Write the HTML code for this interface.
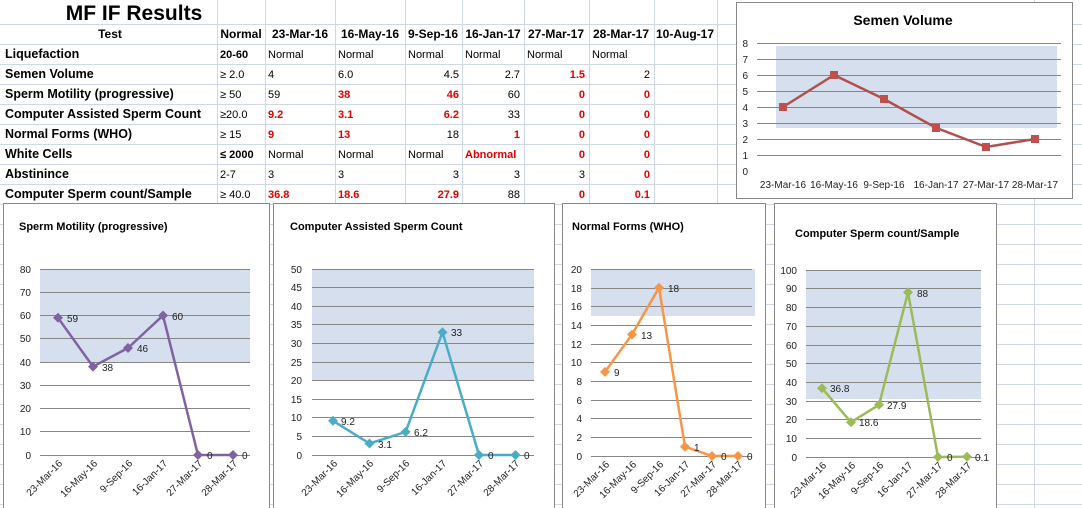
<!DOCTYPE html>
<html><head><meta charset="utf-8"><style>
html,body{margin:0;padding:0;background:#fff;}
svg{display:block;font-family:"Liberation Sans",sans-serif;}
.b{font-weight:bold;}
.r{fill:#e00000;font-weight:bold;}
.t{font-size:12px;}
.ax{font-size:10px;fill:#222;}
.g{stroke:#868686;stroke-width:1;}
</style></head><body>
<svg width="1082" height="508" viewBox="0 0 1082 508" xmlns="http://www.w3.org/2000/svg">
<!-- background grid -->
<g stroke="#d0d7e5" stroke-width="1">
<line x1="0" y1="24.5" x2="1082" y2="24.5"/><line x1="0" y1="44.5" x2="1082" y2="44.5"/>
<line x1="0" y1="64.5" x2="1082" y2="64.5"/><line x1="0" y1="84.5" x2="1082" y2="84.5"/>
<line x1="0" y1="104.5" x2="1082" y2="104.5"/><line x1="0" y1="124.5" x2="1082" y2="124.5"/>
<line x1="0" y1="144.5" x2="1082" y2="144.5"/><line x1="0" y1="164.5" x2="1082" y2="164.5"/>
<line x1="0" y1="184.5" x2="1082" y2="184.5"/><line x1="0" y1="204.5" x2="1082" y2="204.5"/>
<line x1="0" y1="224.5" x2="1082" y2="224.5"/><line x1="0" y1="244.5" x2="1082" y2="244.5"/>
<line x1="0" y1="264.5" x2="1082" y2="264.5"/><line x1="0" y1="284.5" x2="1082" y2="284.5"/>
<line x1="0" y1="304.5" x2="1082" y2="304.5"/><line x1="0" y1="324.5" x2="1082" y2="324.5"/>
<line x1="0" y1="344.5" x2="1082" y2="344.5"/><line x1="0" y1="364.5" x2="1082" y2="364.5"/>
<line x1="0" y1="384.5" x2="1082" y2="384.5"/><line x1="0" y1="404.5" x2="1082" y2="404.5"/>
<line x1="0" y1="424.5" x2="1082" y2="424.5"/><line x1="0" y1="444.5" x2="1082" y2="444.5"/>
<line x1="0" y1="464.5" x2="1082" y2="464.5"/><line x1="0" y1="484.5" x2="1082" y2="484.5"/>
<line x1="0" y1="504.5" x2="1082" y2="504.5"/>
<line x1="217.5" y1="0" x2="217.5" y2="508"/><line x1="265.5" y1="0" x2="265.5" y2="508"/>
<line x1="335.5" y1="0" x2="335.5" y2="508"/><line x1="405.5" y1="0" x2="405.5" y2="508"/>
<line x1="462.5" y1="0" x2="462.5" y2="508"/><line x1="524.5" y1="0" x2="524.5" y2="508"/>
<line x1="589.5" y1="0" x2="589.5" y2="508"/><line x1="654.5" y1="0" x2="654.5" y2="508"/>
<line x1="717.5" y1="0" x2="717.5" y2="508"/><line x1="1034.5" y1="0" x2="1034.5" y2="508"/>
</g>

<!-- Table -->
<text x="134" y="20" text-anchor="middle" class="b" font-size="21">MF IF Results</text>
<g class="t">
<text x="110" y="38" text-anchor="middle" class="b">Test</text>
<text x="241" y="38" text-anchor="middle" class="b">Normal</text>
<text x="300" y="38" text-anchor="middle" class="b">23-Mar-16</text>
<text x="370" y="38" text-anchor="middle" class="b">16-May-16</text>
<text x="433" y="38" text-anchor="middle" class="b">9-Sep-16</text>
<text x="493" y="38" text-anchor="middle" class="b">16-Jan-17</text>
<text x="556" y="38" text-anchor="middle" class="b">27-Mar-17</text>
<text x="621" y="38" text-anchor="middle" class="b">28-Mar-17</text>
<text x="685" y="38" text-anchor="middle" class="b">10-Aug-17</text>

<g class="b" font-size="12.5">
<text x="5" y="58">Liquefaction</text>
<text x="5" y="78">Semen Volume</text>
<text x="5" y="98">Sperm Motility (progressive)</text>
<text x="5" y="118">Computer Assisted Sperm Count</text>
<text x="5" y="138">Normal Forms (WHO)</text>
<text x="5" y="158">White Cells</text>
<text x="5" y="178">Abstinince</text>
<text x="5" y="198">Computer Sperm count/Sample</text>
</g>
<g font-size="11">
<text x="220" y="58" class="b">20-60</text>
<text x="220" y="78">≥ 2.0</text>
<text x="220" y="98">≥ 50</text>
<text x="220" y="118">≥20.0</text>
<text x="220" y="138">≥ 15</text>
<text x="220" y="158" class="b">≤  2000</text>
<text x="220" y="178">2-7</text>
<text x="220" y="198">≥ 40.0</text>
</g>
<g font-size="11">
<text x="268" y="58">Normal</text><text x="338" y="58">Normal</text><text x="408" y="58">Normal</text><text x="465" y="58">Normal</text><text x="527" y="58">Normal</text><text x="592" y="58">Normal</text>
<text x="268" y="78">4</text><text x="338" y="78">6.0</text>
<text x="268" y="98">59</text><text x="338" y="98" class="r">38</text>
<text x="268" y="118" class="r">9.2</text><text x="338" y="118" class="r">3.1</text>
<text x="268" y="138" class="r">9</text><text x="338" y="138" class="r">13</text>
<text x="268" y="158">Normal</text><text x="338" y="158">Normal</text><text x="408" y="158">Normal</text><text x="465" y="158" class="r">Abnormal</text>
<text x="268" y="178">3</text><text x="338" y="178">3</text>
<text x="268" y="198" class="r">36.8</text><text x="338" y="198" class="r">18.6</text>
<g text-anchor="end">
<text x="459" y="78">4.5</text><text x="520" y="78">2.7</text><text x="585" y="78" class="r">1.5</text><text x="650" y="78">2</text>
<text x="459" y="98" class="r">46</text><text x="520" y="98">60</text><text x="585" y="98" class="r">0</text><text x="650" y="98" class="r">0</text>
<text x="459" y="118" class="r">6.2</text><text x="520" y="118">33</text><text x="585" y="118" class="r">0</text><text x="650" y="118" class="r">0</text>
<text x="459" y="138">18</text><text x="520" y="138" class="r">1</text><text x="585" y="138" class="r">0</text><text x="650" y="138" class="r">0</text>
<text x="585" y="158" class="r">0</text><text x="650" y="158" class="r">0</text>
<text x="459" y="178">3</text><text x="520" y="178">3</text><text x="585" y="178">3</text><text x="650" y="178" class="r">0</text>
<text x="459" y="198" class="r">27.9</text><text x="520" y="198">88</text><text x="585" y="198" class="r">0</text><text x="650" y="198" class="r">0.1</text>
</g>
</g>
</g>

<!-- Semen Volume chart -->
<rect x="736.5" y="2.5" width="336" height="196" fill="#fff" stroke="#888"/>
<text x="903" y="25" text-anchor="middle" class="b" font-size="14">Semen Volume</text>
<rect x="776" y="46" width="281" height="82" fill="#d5dfee"/>
<g class="g">
<line x1="757" y1="43.5" x2="1061" y2="43.5"/><line x1="757" y1="59.5" x2="1061" y2="59.5"/>
<line x1="757" y1="75.5" x2="1061" y2="75.5"/><line x1="757" y1="91.5" x2="1061" y2="91.5"/>
<line x1="757" y1="107.5" x2="1061" y2="107.5"/><line x1="757" y1="123.5" x2="1061" y2="123.5"/>
<line x1="757" y1="139.5" x2="1061" y2="139.5"/><line x1="757" y1="155.5" x2="1061" y2="155.5"/>
</g>
<g class="ax" text-anchor="end">
<text x="748" y="47">8</text><text x="748" y="63">7</text><text x="748" y="79">6</text><text x="748" y="95">5</text>
<text x="748" y="111">4</text><text x="748" y="127">3</text><text x="748" y="143">2</text><text x="748" y="159">1</text><text x="748" y="175">0</text>
</g>
<g class="ax" text-anchor="middle">
<text x="783" y="188">23-Mar-16</text><text x="834" y="188">16-May-16</text><text x="884" y="188">9-Sep-16</text>
<text x="936" y="188">16-Jan-17</text><text x="986" y="188">27-Mar-17</text><text x="1035" y="188">28-Mar-17</text>
</g>
<polyline points="783,107 834,75 884,99 936,127.8 986,147 1035,139" fill="none" stroke="#b0504d" stroke-width="2.5"/>
<g fill="#c0504d">
<rect x="779" y="103" width="8" height="8"/><rect x="830" y="71" width="8" height="8"/><rect x="880" y="95" width="8" height="8"/>
<rect x="932" y="124" width="8" height="8"/><rect x="982" y="143" width="8" height="8"/><rect x="1031" y="135" width="8" height="8"/>
</g>

<!-- Chart 1: Sperm Motility -->
<rect x="3.5" y="203.5" width="266" height="310" fill="#fff" stroke="#888"/>
<text x="19" y="230" class="b" font-size="11">Sperm Motility (progressive)</text>
<rect x="40" y="269" width="210" height="93" fill="#d5dfee"/>
<g class="g">
<line x1="40" y1="269.5" x2="250" y2="269.5"/><line x1="40" y1="292.5" x2="250" y2="292.5"/>
<line x1="40" y1="315.5" x2="250" y2="315.5"/><line x1="40" y1="338.5" x2="250" y2="338.5"/>
<line x1="40" y1="362.5" x2="250" y2="362.5"/><line x1="40" y1="385.5" x2="250" y2="385.5"/>
<line x1="40" y1="408.5" x2="250" y2="408.5"/><line x1="40" y1="431.5" x2="250" y2="431.5"/>
<line x1="40" y1="455.5" x2="250" y2="455.5"/>
</g>
<g class="ax" text-anchor="end">
<text x="31" y="273">80</text><text x="31" y="296">70</text><text x="31" y="319">60</text><text x="31" y="342">50</text>
<text x="31" y="366">40</text><text x="31" y="389">30</text><text x="31" y="412">20</text><text x="31" y="435">10</text><text x="31" y="459">0</text>
</g>
<g class="ax" text-anchor="end">
<text transform="translate(63,464) rotate(-45)">23-Mar-16</text><text transform="translate(98,464) rotate(-45)">16-May-16</text>
<text transform="translate(133,464) rotate(-45)">9-Sep-16</text><text transform="translate(168,464) rotate(-45)">16-Jan-17</text>
<text transform="translate(203,464) rotate(-45)">27-Mar-17</text><text transform="translate(238,464) rotate(-45)">28-Mar-17</text>
</g>
<polyline points="58,317.8 93,366.6 128,348 163,315.5 198,455 233,455" fill="none" stroke="#7f63a1" stroke-width="2.5"/>
<g fill="#8064a2">
<path d="M58 312.8l5 5-5 5-5-5z"/><path d="M93 361.6l5 5-5 5-5-5z"/><path d="M128 343l5 5-5 5-5-5z"/>
<path d="M163 310.5l5 5-5 5-5-5z"/><path d="M198 450l5 5-5 5-5-5z"/><path d="M233 450l5 5-5 5-5-5z"/>
</g>
<g class="ax"><text x="67" y="322">59</text><text x="102" y="371">38</text><text x="137" y="352">46</text><text x="172" y="320">60</text><text x="207" y="459">0</text><text x="242" y="459">0</text></g>

<!-- Chart 2: CASC -->
<rect x="273.5" y="203.5" width="281" height="310" fill="#fff" stroke="#888"/>
<text x="290" y="230" class="b" font-size="11">Computer Assisted Sperm Count</text>
<rect x="312" y="269" width="222" height="111.6" fill="#d5dfee"/>
<g class="g">
<line x1="312" y1="269.5" x2="534" y2="269.5"/><line x1="312" y1="287.5" x2="534" y2="287.5"/>
<line x1="312" y1="306.5" x2="534" y2="306.5"/><line x1="312" y1="324.5" x2="534" y2="324.5"/>
<line x1="312" y1="343.5" x2="534" y2="343.5"/><line x1="312" y1="362.5" x2="534" y2="362.5"/>
<line x1="312" y1="380.5" x2="534" y2="380.5"/><line x1="312" y1="399.5" x2="534" y2="399.5"/>
<line x1="312" y1="417.5" x2="534" y2="417.5"/><line x1="312" y1="436.5" x2="534" y2="436.5"/>
<line x1="312" y1="455.5" x2="534" y2="455.5"/>
</g>
<g class="ax" text-anchor="end">
<text x="302" y="273">50</text><text x="302" y="291">45</text><text x="302" y="310">40</text><text x="302" y="328">35</text>
<text x="302" y="347">30</text><text x="302" y="366">25</text><text x="302" y="384">20</text><text x="302" y="403">15</text>
<text x="302" y="421">10</text><text x="302" y="440">5</text><text x="302" y="459">0</text>
</g>
<g class="ax" text-anchor="end">
<text transform="translate(338,464) rotate(-45)">23-Mar-16</text><text transform="translate(374,464) rotate(-45)">16-May-16</text>
<text transform="translate(410,464) rotate(-45)">9-Sep-16</text><text transform="translate(447,464) rotate(-45)">16-Jan-17</text>
<text transform="translate(484,464) rotate(-45)">27-Mar-17</text><text transform="translate(520,464) rotate(-45)">28-Mar-17</text>
</g>
<polyline points="333,420.8 369.5,443.5 405.6,431.9 442.5,332.2 479,455 515.5,455" fill="none" stroke="#4bacc6" stroke-width="2.5"/>
<g fill="#4bacc6">
<path d="M333 415.8l5 5-5 5-5-5z"/><path d="M369.5 438.5l5 5-5 5-5-5z"/><path d="M405.6 426.9l5 5-5 5-5-5z"/>
<path d="M442.5 327.2l5 5-5 5-5-5z"/><path d="M479 450l5 5-5 5-5-5z"/><path d="M515.5 450l5 5-5 5-5-5z"/>
</g>
<g class="ax"><text x="341" y="425">9.2</text><text x="378" y="448">3.1</text><text x="414" y="436">6.2</text><text x="451" y="336">33</text><text x="488" y="459">0</text><text x="524" y="459">0</text></g>

<!-- Chart 3: Normal Forms -->
<rect x="562.5" y="203.5" width="203" height="310" fill="#fff" stroke="#888"/>
<text x="572" y="230" class="b" font-size="11">Normal Forms (WHO)</text>
<rect x="591" y="269" width="164" height="47" fill="#d5dfee"/>
<g class="g">
<line x1="591" y1="269.5" x2="752" y2="269.5"/><line x1="591" y1="288.5" x2="752" y2="288.5"/>
<line x1="591" y1="306.5" x2="752" y2="306.5"/><line x1="591" y1="325.5" x2="752" y2="325.5"/>
<line x1="591" y1="344.5" x2="752" y2="344.5"/><line x1="591" y1="362.5" x2="752" y2="362.5"/>
<line x1="591" y1="381.5" x2="752" y2="381.5"/><line x1="591" y1="400.5" x2="752" y2="400.5"/>
<line x1="591" y1="418.5" x2="752" y2="418.5"/><line x1="591" y1="437.5" x2="752" y2="437.5"/>
<line x1="591" y1="456.5" x2="752" y2="456.5"/>
</g>
<g class="ax" text-anchor="end">
<text x="582" y="273">20</text><text x="582" y="292">18</text><text x="582" y="310">16</text><text x="582" y="329">14</text>
<text x="582" y="348">12</text><text x="582" y="366">10</text><text x="582" y="385">8</text><text x="582" y="404">6</text>
<text x="582" y="422">4</text><text x="582" y="441">2</text><text x="582" y="460">0</text>
</g>
<g class="ax" text-anchor="end">
<text transform="translate(610,465) rotate(-45)">23-Mar-16</text><text transform="translate(637,465) rotate(-45)">16-May-16</text>
<text transform="translate(664,465) rotate(-45)">9-Sep-16</text><text transform="translate(690,465) rotate(-45)">16-Jan-17</text>
<text transform="translate(717,465) rotate(-45)">27-Mar-17</text><text transform="translate(743,465) rotate(-45)">28-Mar-17</text>
</g>
<polyline points="605,371.9 632,334.5 659,287.7 685,446.7 712,456 738,456" fill="none" stroke="#f79646" stroke-width="2.5"/>
<g fill="#f79646">
<path d="M605 366.9l5 5-5 5-5-5z"/><path d="M632 329.5l5 5-5 5-5-5z"/><path d="M659 282.7l5 5-5 5-5-5z"/>
<path d="M685 441.7l5 5-5 5-5-5z"/><path d="M712 451l5 5-5 5-5-5z"/><path d="M738 451l5 5-5 5-5-5z"/>
</g>
<g class="ax"><text x="614" y="376">9</text><text x="641" y="339">13</text><text x="668" y="292">18</text><text x="694" y="451">1</text><text x="721" y="460">0</text><text x="747" y="460">0</text></g>

<!-- Chart 4: Computer Sperm count/Sample -->
<rect x="774.5" y="203.5" width="222" height="310" fill="#fff" stroke="#888"/>
<text x="795" y="237" class="b" font-size="11">Computer Sperm count/Sample</text>
<rect x="806" y="270" width="175" height="129" fill="#d5dfee"/>
<g class="g">
<line x1="806" y1="270.5" x2="981" y2="270.5"/><line x1="806" y1="288.5" x2="981" y2="288.5"/>
<line x1="806" y1="307.5" x2="981" y2="307.5"/><line x1="806" y1="326.5" x2="981" y2="326.5"/>
<line x1="806" y1="345.5" x2="981" y2="345.5"/><line x1="806" y1="363.5" x2="981" y2="363.5"/>
<line x1="806" y1="382.5" x2="981" y2="382.5"/><line x1="806" y1="401.5" x2="981" y2="401.5"/>
<line x1="806" y1="419.5" x2="981" y2="419.5"/><line x1="806" y1="438.5" x2="981" y2="438.5"/>
<line x1="806" y1="457.5" x2="981" y2="457.5"/>
</g>
<g class="ax" text-anchor="end">
<text x="797" y="274">100</text><text x="797" y="292">90</text><text x="797" y="311">80</text><text x="797" y="330">70</text>
<text x="797" y="349">60</text><text x="797" y="367">50</text><text x="797" y="386">40</text><text x="797" y="405">30</text>
<text x="797" y="423">20</text><text x="797" y="442">10</text><text x="797" y="461">0</text>
</g>
<g class="ax" text-anchor="end">
<text transform="translate(827,466) rotate(-45)">23-Mar-16</text><text transform="translate(856,466) rotate(-45)">16-May-16</text>
<text transform="translate(884,466) rotate(-45)">9-Sep-16</text><text transform="translate(913,466) rotate(-45)">16-Jan-17</text>
<text transform="translate(943,466) rotate(-45)">27-Mar-17</text><text transform="translate(972,466) rotate(-45)">28-Mar-17</text>
</g>
<polyline points="822,388.2 851,422.2 879,404.8 908,292.4 938,457 967,456.8" fill="none" stroke="#9bbb59" stroke-width="2.5"/>
<g fill="#9bbb59">
<path d="M822 383.2l5 5-5 5-5-5z"/><path d="M851 417.2l5 5-5 5-5-5z"/><path d="M879 399.8l5 5-5 5-5-5z"/>
<path d="M908 287.4l5 5-5 5-5-5z"/><path d="M938 452l5 5-5 5-5-5z"/><path d="M967 451.8l5 5-5 5-5-5z"/>
</g>
<g class="ax"><text x="830" y="392">36.8</text><text x="859" y="426">18.6</text><text x="887" y="409">27.9</text><text x="917" y="297">88</text><text x="947" y="461">0</text><text x="975" y="461">0.1</text></g>
</svg>
</body></html>
